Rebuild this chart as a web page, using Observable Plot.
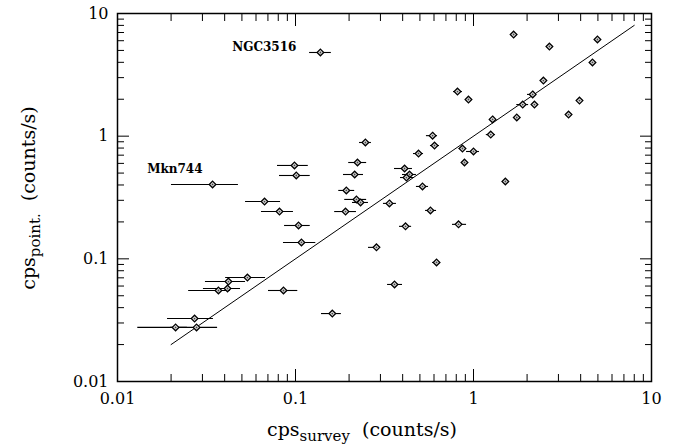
<!DOCTYPE html>
<html>
<head>
<meta charset="utf-8">
<script src="https://cdn.jsdelivr.net/npm/d3@7"></script>
<script src="https://cdn.jsdelivr.net/npm/@observablehq/plot@0.6"></script>
<style>
  body { margin: 0; background: #fff; }
  #chart svg { display: block; }
</style>
</head>
<body>
<div id="chart"></div>
<script>
// survey count rate (x), its error range, and pointed count rate (y)
const cpsSurvey = [0.138, 1.68, 2.67, 4.97, 4.66, 2.47, 2.15, 2.20, 1.89, 1.75,
  1.28, 1.25, 0.813, 0.937, 3.42, 3.94, 0.589, 0.604, 0.491, 0.867,
  1.00, 0.890, 0.410, 0.437, 0.420, 0.517, 1.51, 0.337, 0.573, 0.415,
  0.824, 0.620, 0.360, 0.247, 0.223, 0.215, 0.193, 0.220, 0.232, 0.191,
  0.0987, 0.101, 0.067, 0.0813, 0.104, 0.108, 0.285, 0.0342, 0.0537, 0.042,
  0.0415, 0.0369, 0.0856, 0.161, 0.0271, 0.0212, 0.0278];
const cpsSurveyLo = [0.120, 1.68, 2.57, 4.97, 4.66, 2.47, 2.01, 2.20, 1.75, 1.75,
  1.23, 1.18, 0.772, 0.937, 3.42, 3.94, 0.544, 0.573, 0.460, 0.83,
  0.914, 0.890, 0.360, 0.399, 0.389, 0.478, 1.51, 0.312, 0.538, 0.384,
  0.762, 0.589, 0.329, 0.229, 0.199, 0.186, 0.175, 0.189, 0.209, 0.166,
  0.0792, 0.0813, 0.0524, 0.0644, 0.0868, 0.0856, 0.257, 0.0201, 0.0405, 0.0312,
  0.0304, 0.0251, 0.0705, 0.140, 0.0191, 0.0130, 0.0199];
const cpsSurveyHi = [0.159, 1.68, 2.81, 4.97, 4.66, 2.47, 2.26, 2.20, 2.04, 1.75,
  1.33, 1.33, 0.867, 0.937, 3.42, 3.94, 0.628, 0.644, 0.524, 0.90,
  1.08, 0.890, 0.454, 0.478, 0.460, 0.559, 1.51, 0.369, 0.620, 0.449,
  0.914, 0.653, 0.399, 0.267, 0.251, 0.241, 0.215, 0.251, 0.257, 0.220,
  0.118, 0.121, 0.0824, 0.0974, 0.121, 0.130, 0.300, 0.0478, 0.0679, 0.0524,
  0.0491, 0.0431, 0.103, 0.181, 0.0346, 0.0247, 0.0365];
const cpsPoint = [4.81, 6.74, 5.38, 6.14, 3.99, 2.84, 2.19, 1.81, 1.81, 1.42,
  1.37, 1.03, 2.31, 1.99, 1.50, 1.95, 1.01, 0.839, 0.722, 0.793,
  0.750, 0.610, 0.545, 0.487, 0.460, 0.389, 0.427, 0.283, 0.248, 0.184,
  0.191, 0.0934, 0.0618, 0.888, 0.610, 0.487, 0.361, 0.305, 0.288, 0.243,
  0.577, 0.478, 0.293, 0.243, 0.187, 0.136, 0.124, 0.404, 0.0704, 0.0653,
  0.0573, 0.0552, 0.0552, 0.0358, 0.0326, 0.0276, 0.0276];

// labelled sources (index into the arrays above)
const labelNames = ["NGC3516", "Mkn744"];
const labelIndex = [0, 47];

// one-to-one reference line
const equalityLine = [0.02, 8];

// axis ticks
const majorTicks = [0.01, 0.1, 1, 10];
const tickLabels = ["0.01", "0.1", "1", "10"];
const minorMultipliers = [2, 3, 4, 5, 6, 7, 8, 9];
const minorTicks = majorTicks.slice(0, 3).flatMap(d => minorMultipliers.map(m => d * m));
const tickLabelOf = d => {
  const k = majorTicks.findIndex(t => Math.abs(t - d) < t * 1e-6);
  return k >= 0 ? tickLabels[k] : "";
};

const rows = cpsSurvey.map((x, i) => ({x, lo: cpsSurveyLo[i], hi: cpsSurveyHi[i], y: cpsPoint[i]}));
const labels = labelNames.map((name, k) => ({name, ...rows[labelIndex[k]]}));
const lineData = equalityLine.map(v => ({x: v, y: v}));

const font = "DejaVu Serif";
const W = 680, H = 448;
const mL = 117, mR = 29, mT = 13, mB = 67;

const plot = Plot.plot({
  width: W,
  height: H,
  marginLeft: mL,
  marginRight: mR,
  marginTop: mT,
  marginBottom: mB,
  style: {fontFamily: font, fontSize: "16px", background: "white", color: "black"},
  x: {type: "log", domain: [0.01, 10], axis: null},
  y: {type: "log", domain: [0.01, 10], axis: null},
  marks: [
    // tick labels
    Plot.axisX({anchor: "bottom", ticks: majorTicks, tickSize: 0, tickPadding: 11, tickFormat: tickLabelOf, fontSize: 16, fontFamily: font, label: null}),
    Plot.axisY({anchor: "left", ticks: majorTicks, tickSize: 0, tickPadding: 9, tickFormat: tickLabelOf, fontSize: 16, fontFamily: font, label: null}),
    // inward ticks on all sides
    Plot.axisX({anchor: "bottom", ticks: majorTicks, tickSize: -12, tickFormat: () => "", label: null}),
    Plot.axisX({anchor: "bottom", ticks: minorTicks, tickSize: -7, tickFormat: () => "", label: null}),
    Plot.axisX({anchor: "top", ticks: majorTicks, tickSize: -12, tickFormat: () => "", label: null}),
    Plot.axisX({anchor: "top", ticks: minorTicks, tickSize: -7, tickFormat: () => "", label: null}),
    Plot.axisY({anchor: "left", ticks: majorTicks, tickSize: -12, tickFormat: () => "", label: null}),
    Plot.axisY({anchor: "left", ticks: minorTicks, tickSize: -7, tickFormat: () => "", label: null}),
    Plot.axisY({anchor: "right", ticks: majorTicks, tickSize: -12, tickFormat: () => "", label: null}),
    Plot.axisY({anchor: "right", ticks: minorTicks, tickSize: -7, tickFormat: () => "", label: null}),
    Plot.frame({stroke: "black", strokeWidth: 1.5}),
    Plot.line(lineData, {x: "x", y: "y", stroke: "black", strokeWidth: 1}),
    Plot.ruleY(rows, {y: "y", x1: "lo", x2: "hi", stroke: "black", strokeWidth: 1.1}),
    Plot.dot(rows, {x: "x", y: "y", symbol: "diamond2", r: 3, fill: "#e2e2e2", stroke: "black", strokeWidth: 1.3}),
    Plot.dot(rows, {x: "x", y: "y", r: 0.9, fill: "#444", stroke: null}),
    Plot.text(labels.slice(0, 1), {x: "x", y: "y", text: "name", textAnchor: "end", dx: -24, dy: -5, fontSize: 12, fontWeight: "bold", fontFamily: font}),
    Plot.text(labels.slice(1, 2), {x: "x", y: "y", text: "name", textAnchor: "end", dx: -10, dy: -15, fontSize: 12, fontWeight: "bold", fontFamily: font})
  ]
});

document.getElementById("chart").appendChild(plot);

// axis titles with subscripts
const svg = d3.select(plot);
const xt = svg.append("text")
  .attr("x", 362).attr("y", 436)
  .attr("text-anchor", "middle")
  .attr("font-family", font).attr("font-size", 19).attr("fill", "black");
xt.append("tspan").text("cps");
xt.append("tspan").attr("font-size", 15).attr("dy", 5).text("survey");
xt.append("tspan").attr("dy", -5).text("\u00a0\u00a0(counts/s)");

const yt = svg.append("text")
  .attr("transform", "translate(35,198) rotate(-90)")
  .attr("text-anchor", "middle")
  .attr("font-family", font).attr("font-size", 19).attr("fill", "black");
yt.append("tspan").text("cps");
yt.append("tspan").attr("font-size", 15).attr("dy", 5).text("point.");
yt.append("tspan").attr("dy", -5).text("\u00a0\u00a0(counts/s)");
</script>
</body>
</html>
